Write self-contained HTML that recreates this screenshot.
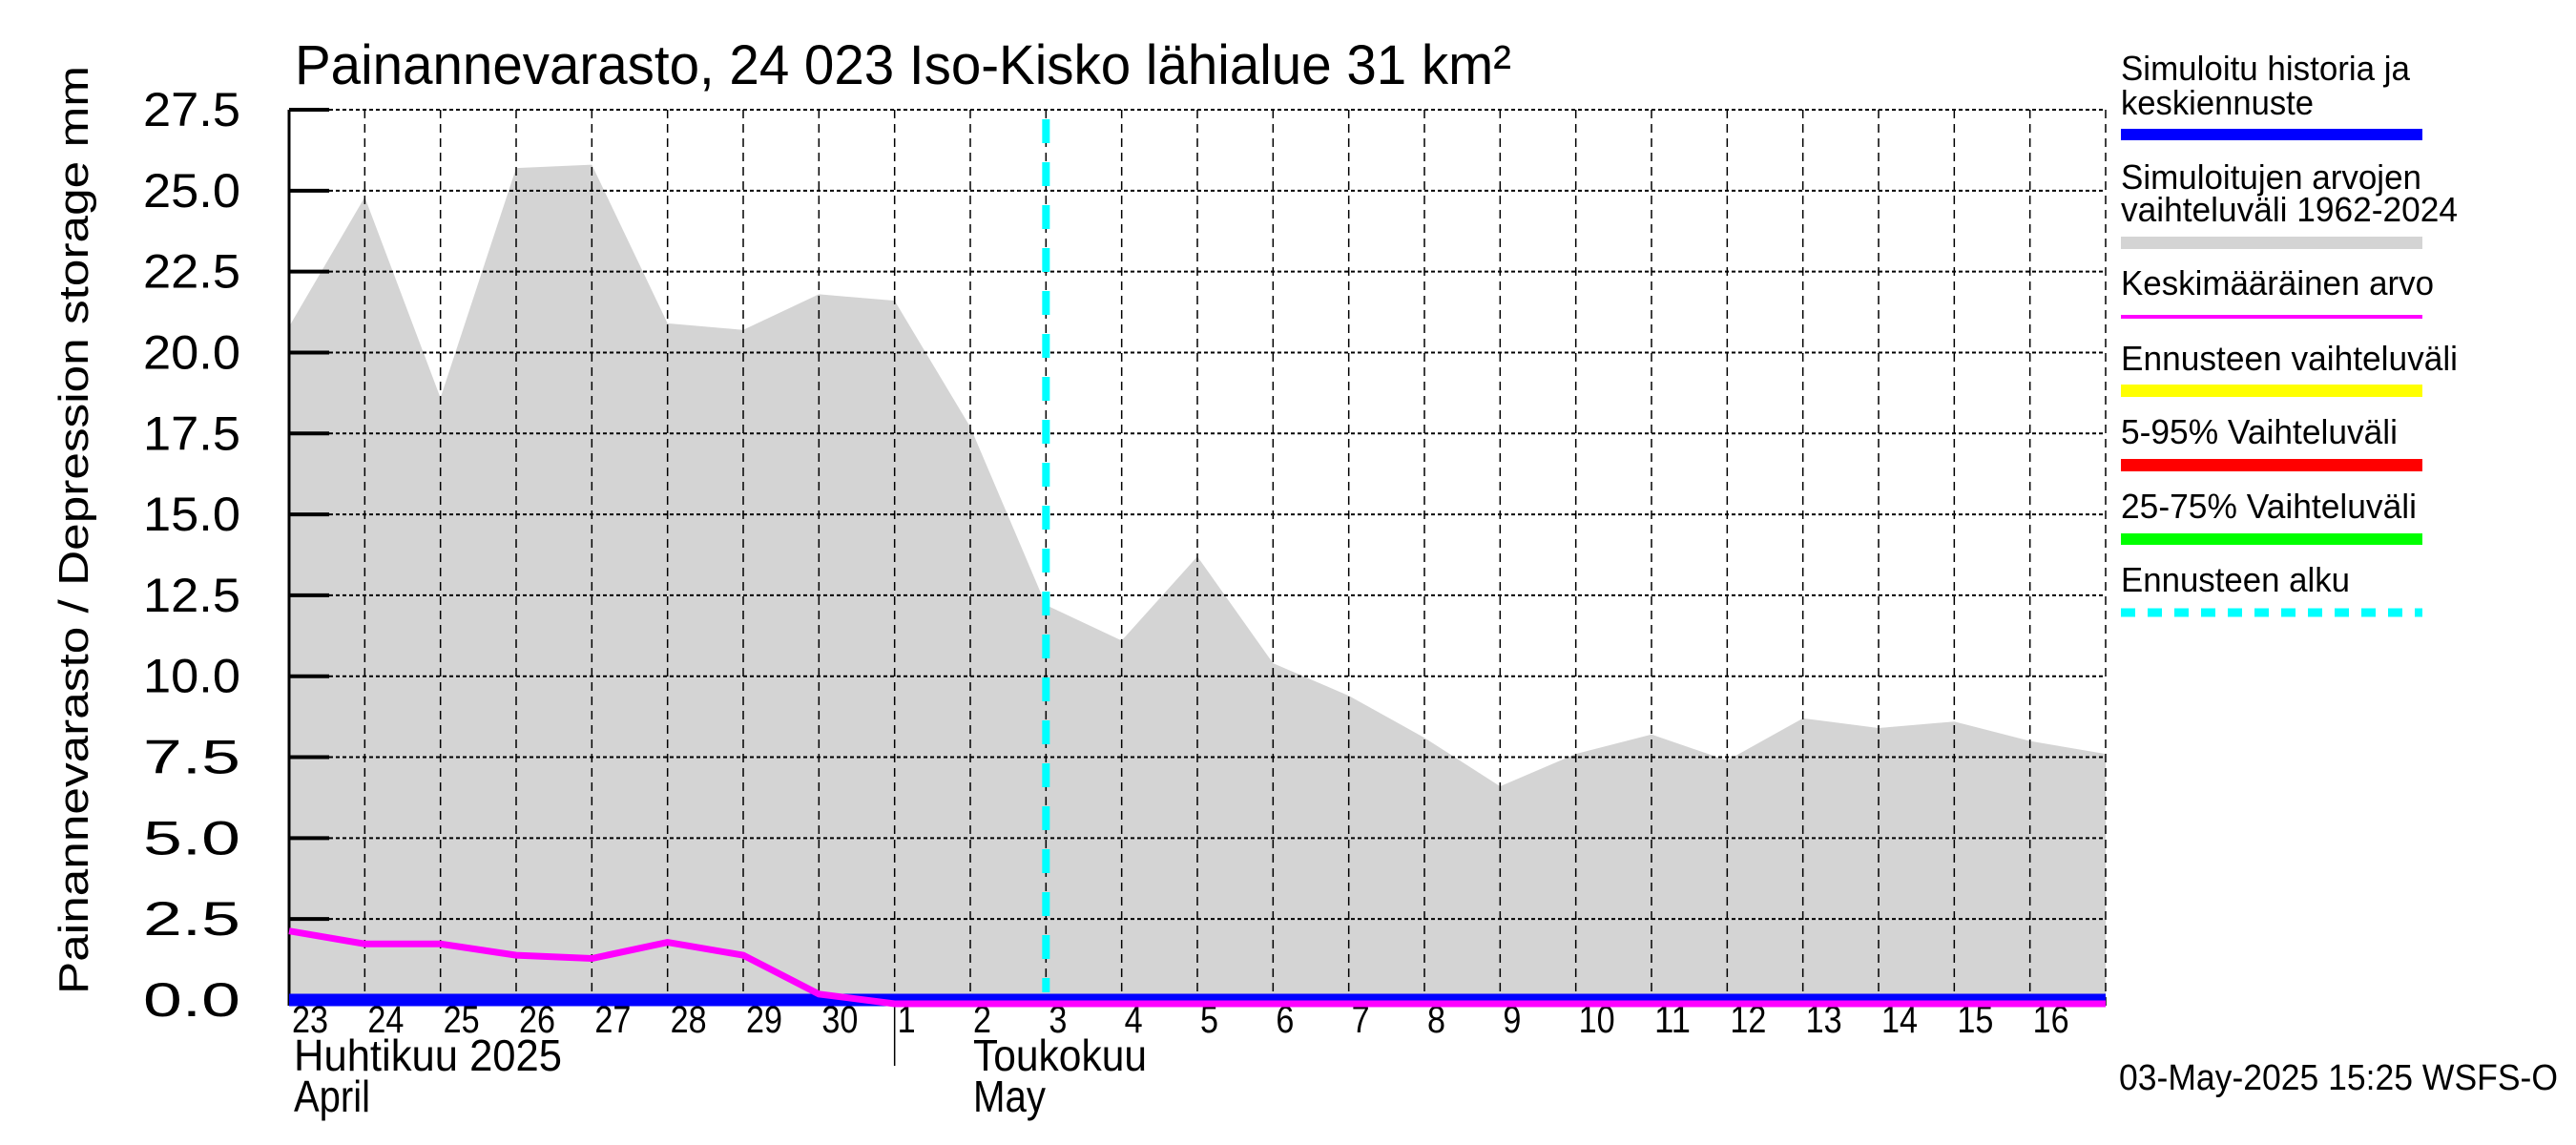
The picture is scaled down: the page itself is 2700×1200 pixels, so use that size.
<!DOCTYPE html>
<html><head><meta charset="utf-8"><style>
html,body{margin:0;padding:0;background:#fff;}
svg{display:block;font-family:"Liberation Sans",sans-serif;}
</style></head><body>
<svg id="chart" width="2700" height="1200" viewBox="0 0 2700 1200" xmlns="http://www.w3.org/2000/svg">
<g id="plot"></g>
<text x="309" y="88" font-size="58" textLength="1275" lengthAdjust="spacingAndGlyphs">Painannevarasto, 24 023 Iso-Kisko lähialue 31 km²</text>
<text transform="translate(92,1042) rotate(-90)" font-size="44" textLength="973" lengthAdjust="spacingAndGlyphs">Painannevarasto / Depression storage    mm</text>
<g font-size="36" lengthAdjust="spacingAndGlyphs">
<text x="2223" y="84" textLength="303" lengthAdjust="spacingAndGlyphs">Simuloitu historia ja</text>
<text x="2223" y="120" textLength="202" lengthAdjust="spacingAndGlyphs">keskiennuste</text>
<rect x="2223" y="135" width="316" height="12" fill="#0000ff"/>
<text x="2223" y="198" textLength="315" lengthAdjust="spacingAndGlyphs">Simuloitujen arvojen</text>
<text x="2223" y="232" textLength="353" lengthAdjust="spacingAndGlyphs">vaihteluväli 1962-2024</text>
<rect x="2223" y="248" width="316" height="13" fill="#d4d4d4"/>
<text x="2223" y="309" textLength="328" lengthAdjust="spacingAndGlyphs">Keskimääräinen arvo</text>
<rect x="2223" y="330" width="316" height="4" fill="#ff00ff"/>
<text x="2223" y="388" textLength="353" lengthAdjust="spacingAndGlyphs">Ennusteen vaihteluväli</text>
<rect x="2223" y="403" width="316" height="13" fill="#ffff00"/>
<text x="2223" y="465" textLength="290" lengthAdjust="spacingAndGlyphs">5-95% Vaihteluväli</text>
<rect x="2223" y="481" width="316" height="13" fill="#ff0000"/>
<text x="2223" y="543" textLength="310" lengthAdjust="spacingAndGlyphs">25-75% Vaihteluväli</text>
<rect x="2223" y="559" width="316" height="12" fill="#00ff00"/>
<text x="2223" y="620" textLength="240" lengthAdjust="spacingAndGlyphs">Ennusteen alku</text>
<line x1="2223" y1="642" x2="2539" y2="642" stroke="#00ffff" stroke-width="9" stroke-dasharray="15 13"/>
</g>
<text x="2681" y="1142" font-size="38" text-anchor="end" textLength="460" lengthAdjust="spacingAndGlyphs">03-May-2025 15:25 WSFS-O</text>
</svg>
<script>
const dayLabels = ["23","24","25","26","27","28","29","30","1","2","3","4","5","6","7","8","9","10","11","12","13","14","15","16"];
const rangeMax = [20.8,24.8,18.6,25.7,25.8,20.9,20.7,21.8,21.6,17.7,12.2,11.1,13.7,10.4,9.4,8.1,6.6,7.6,8.2,7.4,8.7,8.4,8.6,8.0,7.6];
const meanValues = [2.25,1.85,1.85,1.5,1.4,1.9,1.5,0.3,0.0,0.0,0.0,0.0,0.0,0.0,0.0,0.0,0.0,0.0,0.0,0.0,0.0,0.0,0.0,0.0,0.0];
const historyValues = [0,0,0,0,0,0,0,0,0,0,0,0,0,0,0,0,0,0,0,0,0,0,0,0,0];
const yTicks = [0,2.5,5,7.5,10,12.5,15,17.5,20,22.5,25,27.5];
const forecastStartIndex = 10;

const NS="http://www.w3.org/2000/svg";
const L=303,R=2207,T=115,Y0=1048,B=1054;
const nDays=24;
const xs=i=>L+(R-L)*i/nDays;
const ys=v=>Y0-(Y0-T)*v/27.5;
const g=document.getElementById('plot');
function mk(tag,attrs,parent){const e=document.createElementNS(NS,tag);for(const k in attrs)e.setAttribute(k,attrs[k]);(parent||g).appendChild(e);return e;}

let d=`M${xs(0)},${B}`;
rangeMax.forEach((v,i)=>{d+=` L${xs(i)},${ys(v)}`;});
d+=` L${xs(rangeMax.length-1)},${B} Z`;
const area=mk('path',{d:d,fill:'#d4d4d4'});



yTicks.forEach(v=>{
  const gl=mk('line',{x1:L,x2:R,y1:ys(v),y2:ys(v),stroke:'#000','stroke-width':2,'stroke-dasharray':'4 3'});
  
  
  const tk=mk('line',{x1:L,x2:L+42,y1:ys(v),y2:ys(v),stroke:'#000','stroke-width':4});
  
  
  const t=mk('text',{x:252,y:ys(v)+17,'font-size':50,'text-anchor':'end',textLength:102,lengthAdjust:'spacingAndGlyphs'});
  t.textContent=v.toFixed(1);
  
  
});
for(let i=1;i<=nDays;i++){
  const gl=mk('line',{x1:xs(i),x2:xs(i),y1:T,y2:B,stroke:'#000','stroke-width':1.5,'stroke-dasharray':'9 6'});
  
  
}
dayLabels.forEach((lab,i)=>{
  const t=mk('text',{x:xs(i)+3,y:1082,'font-size':40,textLength:lab.length*19,lengthAdjust:'spacingAndGlyphs'});
  t.textContent=lab;
  
  
});
const ax=mk('line',{x1:L,x2:L,y1:T,y2:B,stroke:'#000','stroke-width':3});


const sep=mk('line',{x1:xs(8),x2:xs(8),y1:B,y2:1117,stroke:'#000','stroke-width':1.5});


[["Huhtikuu  2025",308,1122,281],["April",308,1165,80],["Toukokuu",1020,1122,182],["May",1020,1165,76]].forEach(m=>{
  const t=mk('text',{x:m[1],y:m[2],'font-size':46,textLength:m[3],lengthAdjust:'spacingAndGlyphs'});
  t.textContent=m[0];
  
  
});

const hp=mk('polyline',{points:historyValues.map((v,i)=>xs(i)+','+ys(v)).join(' '),fill:'none',stroke:'#0000ff','stroke-width':13});


const mp=mk('polyline',{points:meanValues.map((v,i)=>xs(i)+','+(ys(v)+4)).join(' '),fill:'none',stroke:'#ff00ff','stroke-width':7});


const fs=mk('line',{x1:xs(forecastStartIndex),x2:xs(forecastStartIndex),y1:125,y2:1040,stroke:'#00ffff','stroke-width':8,'stroke-dasharray':'25 20'});


</script>
</body></html>
